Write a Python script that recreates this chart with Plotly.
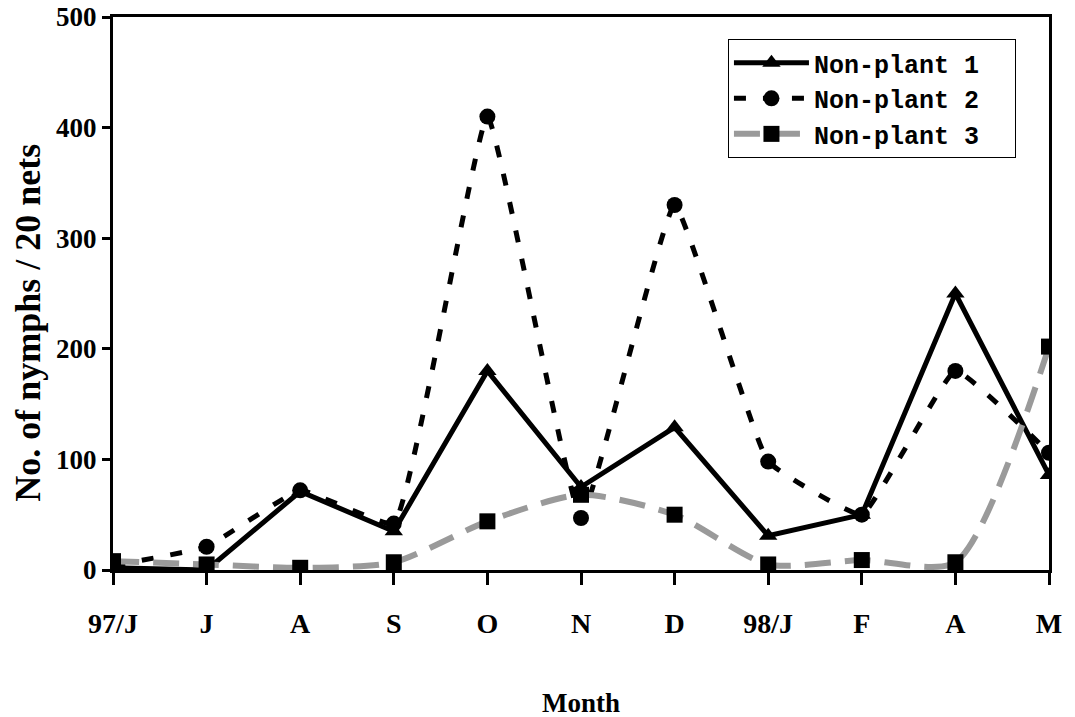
import plotly.graph_objects as go

months = ["97/J", "J", "A", "S", "O", "N", "D", "98/J", "F", "A", "M"]
non_plant_1 = [2, 0, 71, 35, 180, 75, 129, 31, 50, 250, 86]
non_plant_2 = [4, 21, 72, 42, 410, 47, 330, 98, 50, 180, 106]
non_plant_3 = [8, 5, 2, 7, 44, 68, 50, 5, 9, 7, 202]
y_ticks = [0, 100, 200, 300, 400, 500]

xpos = list(range(len(months)))
NB = "\u00a0"

fig = go.Figure()
fig.add_trace(go.Scatter(
    x=xpos, y=non_plant_1, name="Non-plant 1" + NB * 2, mode="lines+markers",
    line=dict(color="black", width=5),
    marker=dict(symbol="triangle-up", size=16, color="black"),
))
fig.add_trace(go.Scatter(
    x=xpos, y=non_plant_2, name="Non-plant 2" + NB * 2, mode="lines+markers",
    line=dict(color="black", width=5, dash="12px,17px", shape="spline", smoothing=0.3),
    marker=dict(symbol="circle", size=16, color="black"),
))
fig.add_trace(go.Scatter(
    x=xpos, y=non_plant_3, name="Non-plant 3" + NB * 2, mode="lines+markers",
    line=dict(color="#9a9a9a", width=6, dash="26px,14px", shape="spline", smoothing=0.7),
    marker=dict(symbol="square", size=16, color="black"),
))

fig.update_layout(
    width=1075, height=717,
    margin=dict(l=113, r=26, t=17, b=147),
    paper_bgcolor="white", plot_bgcolor="white",
    showlegend=True,
    legend=dict(
        x=0.657, y=0.96, xanchor="left", yanchor="top",
        bgcolor="white", bordercolor="black", borderwidth=1,
        font=dict(family="Liberation Mono", size=25, color="black", weight="bold"),
        itemwidth=75, tracegroupgap=0,
    ),
    xaxis=dict(
        range=[0, 10], tickmode="array", tickvals=xpos, ticktext=months,
        automargin=False, ticklabeloverflow="allow",
        showline=True, linecolor="black", linewidth=3, mirror=True,
        ticks="outside", ticklen=12, tickwidth=3, tickcolor="black",
        ticklabelstandoff=14,
        tickfont=dict(family="Liberation Serif", size=28, color="black", weight="bold"),
        showgrid=False, zeroline=False,
    ),
    yaxis=dict(
        range=[0, 500], tickmode="array", tickvals=y_ticks,
        automargin=False, ticklabeloverflow="allow",
        showline=True, linecolor="black", linewidth=3, mirror=True,
        ticks="outside", ticklen=8, tickwidth=3, tickcolor="black",
        tickfont=dict(family="Liberation Serif", size=27, color="black", weight="bold"),
        showgrid=False, zeroline=False,
    ),
    annotations=[
        dict(text="<b>Month</b>", xref="paper", yref="paper", x=0.5, y=-0.24,
             xanchor="center", yanchor="middle", showarrow=False,
             font=dict(family="Liberation Serif", size=27, color="black")),
        dict(text="<b>No. of nymphs / 20 nets</b>", xref="paper", yref="paper",
             x=-0.0908, y=0.447, xanchor="center", yanchor="middle", textangle=-90,
             showarrow=False,
             font=dict(family="Liberation Serif", size=36, color="black")),
    ],
)

fig.write_html("out.html", config={"displayModeBar": False},
               post_script="document.body.style.margin='0px';")
